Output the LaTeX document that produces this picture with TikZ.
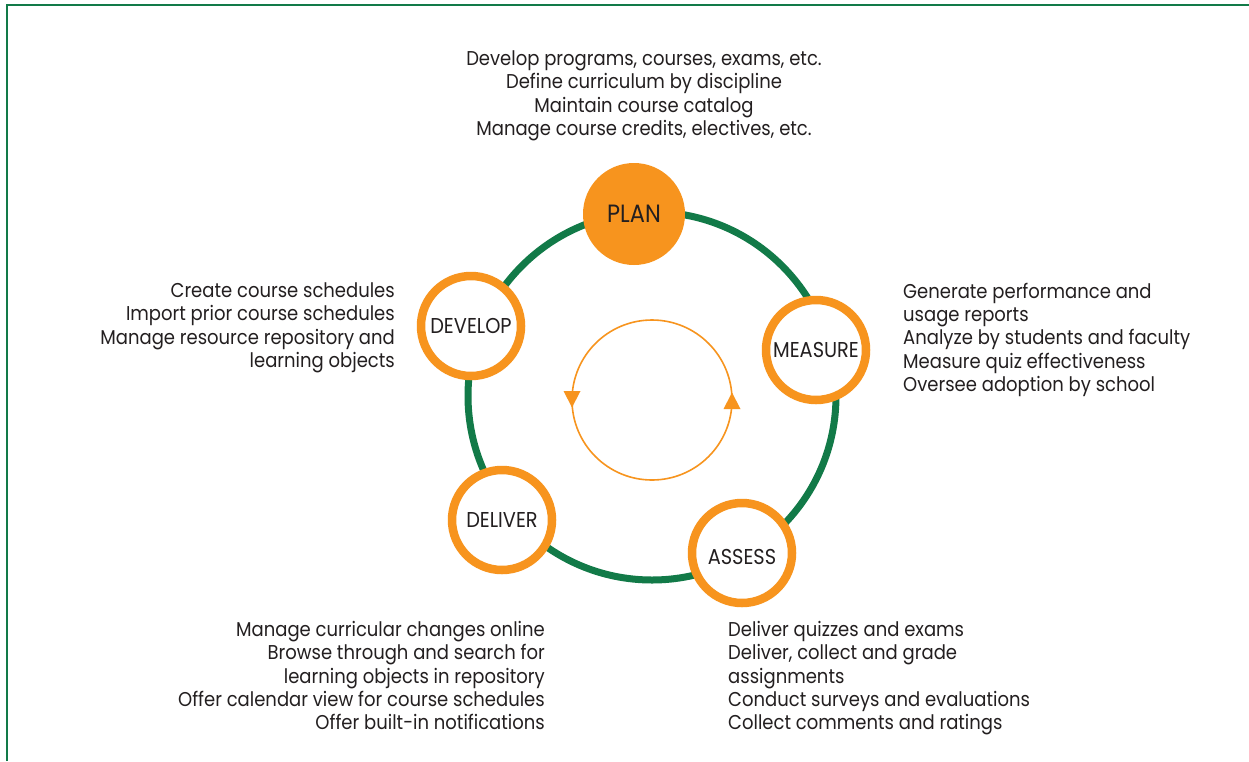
\documentclass[tikz,border=0pt]{standalone}
\usepackage{fontspec}
\setmainfont{Poppins}[FakeStretch=0.9]
\usetikzlibrary{arrows.meta}
\definecolor{ringgreen}{RGB}{18,122,72}
\definecolor{cycorange}{RGB}{247,148,30}
\definecolor{inkgray}{RGB}{35,31,32}
\begin{document}
\begin{tikzpicture}[x=1pt,y=-1pt,
  stage/.style={circle, draw=cycorange, line width=8.5pt, fill=white, minimum size=100pt,
    inner sep=0pt, font=\fontsize{21.5}{24}\selectfont, text=inkgray},
  hub/.style={circle, fill=cycorange, minimum size=102pt, inner sep=0pt,
    font=\fontsize{25}{28}\selectfont, text=inkgray},
  txt/.style={inner sep=0pt, font=\fontsize{20}{23.4}\selectfont, text=inkgray},
  tip/.style={fill=cycorange}]
\useasboundingbox (0,0) rectangle (1249,761);
\fill[white] (0,0) rectangle (1249,761);
% frame
\draw[ringgreen, line width=2.6pt] (7,761) -- (7,5) -- (1249,5);
% main cycle ring
\coordinate (hubc) at (652,396);
\draw[ringgreen, line width=7pt] (hubc) circle[radius=184pt];
% inner rotation circle with its two arrowheads
\coordinate (spin) at (652,400);
\draw[cycorange, line width=1.6pt] (spin) circle[radius=80pt];
\fill[tip] (563.5,391) -- (580.5,391) -- (572,407.5) -- cycle;
\fill[tip] (723.5,409) -- (740.5,409) -- (732,392.5) -- cycle;
% stages
\node[hub] (plan) at (634,214) {PLAN};
\node[stage] (develop) at (471,326) {DEVELOP};
\node[stage] (measure) at (816,350) {MEASURE};
\node[stage, text height=24pt] (assess) at (742,553) {ASSESS};
\node[stage] (deliver) at (502,520) {DELIVER};
% descriptions
\foreach \t [count=\i] in {{Develop programs, courses, exams, etc.},{Define curriculum by discipline},{Maintain course catalog},{Manage course credits, electives, etc.}}
  \node[txt, anchor=base] (plan-\i) at (644,{65.5+23.4*(\i-1)}) {\t};
\foreach \t [count=\i] in {{Create course schedules},{Import prior course schedules},{Manage resource repository and},{learning objects}}
  \node[txt, anchor=base east] (develop-\i) at (395,{297.5+23.4*(\i-1)}) {\t};
\foreach \t [count=\i] in {{Generate performance and},{usage reports},{Analyze by students and faculty},{Measure quiz effectiveness},{Oversee adoption by school}}
  \node[txt, anchor=base west] (measure-\i) at (903,{298.5+23.2*(\i-1)}) {\t};
\foreach \t [count=\i] in {{Manage curricular changes online},{Browse through and search for},{learning objects in repository},{Offer calendar view for course schedules},{Offer built-in notifications}}
  \node[txt, anchor=base east] (deliver-\i) at (545,{636.5+23.3*(\i-1)}) {\t};
\foreach \t [count=\i] in {{Deliver quizzes and exams},{Deliver, collect and grade},{assignments},{Conduct surveys and evaluations},{Collect comments and ratings}}
  \node[txt, anchor=base west] (assess-\i) at (728,{636.5+23.3*(\i-1)}) {\t};
\end{tikzpicture}
\end{document}
